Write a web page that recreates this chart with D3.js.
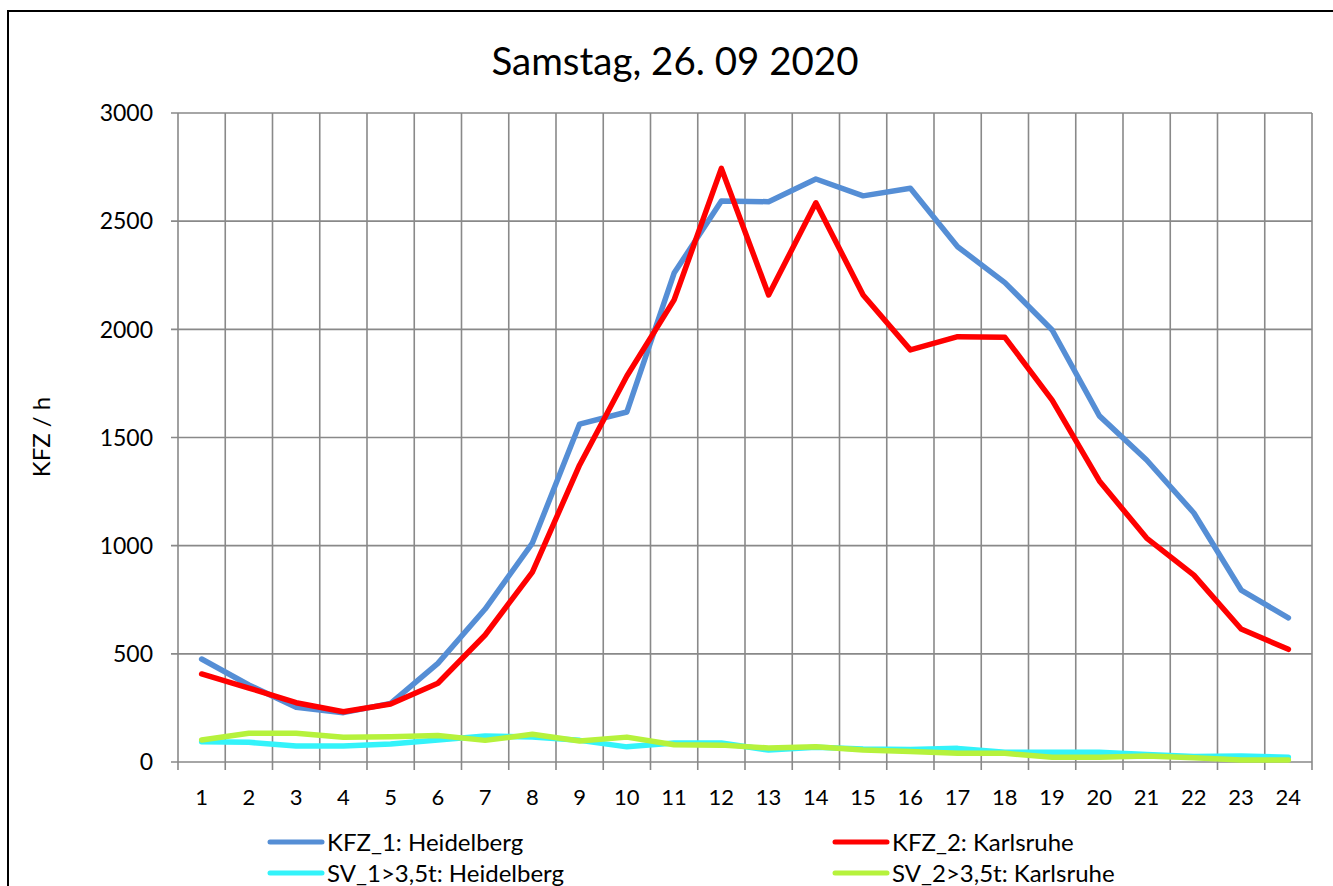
<!DOCTYPE html>
<html>
<head>
<meta charset="utf-8">
<script src="https://cdn.jsdelivr.net/npm/d3@7"></script>
<style>
body { margin:0; background:#fff; }
text { font-family: Lato, "Open Sans", sans-serif; fill:#000; }
</style>
</head>
<body>
<script>
// hours of the day
var hours = d3.range(1, 25)
var yTicks = [0, 500, 1000, 1500, 2000, 2500, 3000]

var kfz1 = [476, 356, 253, 228, 271, 456, 707, 1012, 1562, 1618, 2260, 2593,
            2590, 2695, 2617, 2652, 2382, 2216, 1997, 1600, 1396, 1151, 795, 666]
var kfz2 = [407, 342, 274, 232, 268, 364, 587, 878, 1373, 1784, 2136, 2744,
            2159, 2585, 2159, 1905, 1966, 1963, 1673, 1299, 1035, 864, 615, 521]
var sv1 = [94, 91, 74, 74, 83, 102, 120, 115, 100, 70, 88, 88,
           55, 68, 60, 58, 63, 45, 45, 45, 35, 25, 28, 22]
var sv2 = [102, 133, 133, 114, 117, 123, 100, 128, 97, 115, 80, 78,
           65, 70, 55, 48, 40, 40, 22, 22, 28, 20, 9, 9]

var seriesNames = ["KFZ_1: Heidelberg", "KFZ_2: Karlsruhe", "SV_1>3,5t: Heidelberg", "SV_2>3,5t: Karlsruhe"]
var seriesColors = ["#558ED5", "#FF0000", "#33F3FA", "#B6F23C"]
var seriesData = [kfz1, kfz2, sv1, sv2]

var width = 1333, height = 886
var plot = {left: 178, right: 1312, top: 113, bottom: 762}

var svg = d3.select("body").append("svg")
	.attr("width", width)
	.attr("height", height)

// outer frame
svg.append("rect")
	.attr("x", 8).attr("y", 11)
	.attr("width", 1345).attr("height", 900)
	.attr("fill", "none").attr("stroke", "#000").attr("stroke-width", 2)

var x = d3.scaleBand().domain(hours).range([plot.left, plot.right]).padding(0)
var y = d3.scaleLinear().domain([0, 3000]).range([plot.bottom, plot.top])

var grid = svg.append("g").attr("stroke", "#898989").attr("stroke-width", 1.6)

// horizontal grid + y ticks
grid.selectAll("line.h").data(yTicks).enter().append("line")
	.attr("x1", plot.left - 7).attr("x2", plot.right)
	.attr("y1", function(d){return y(d)}).attr("y2", function(d){return y(d)})

// vertical grid at category boundaries + x ticks
var bounds = hours.map(function(h){return x(h)}).concat([plot.right])
grid.selectAll("line.v").data(bounds).enter().append("line")
	.attr("x1", function(d){return d}).attr("x2", function(d){return d})
	.attr("y1", plot.top).attr("y2", plot.bottom + 8)

// y labels
svg.append("g").selectAll("text").data(yTicks).enter().append("text")
	.attr("x", 153).attr("y", function(d){return y(d)})
	.attr("dy", "0.36em")
	.attr("text-anchor", "end")
	.style("font-size", "23px")
	.text(function(d){return d})

// x labels
svg.append("g").selectAll("text").data(hours).enter().append("text")
	.attr("x", function(d){return x(d) + x.bandwidth()/2})
	.attr("y", 805)
	.attr("text-anchor", "middle")
	.style("font-size", "22px")
	.text(function(d){return d})

// lines
var line = d3.line()
	.x(function(d, i){return x(hours[i]) + x.bandwidth()/2})
	.y(function(d){return y(d)})

var order = [2, 3, 0, 1]
order.forEach(function(k){
	svg.append("path")
		.datum(seriesData[k])
		.attr("d", line)
		.attr("fill", "none")
		.attr("stroke", seriesColors[k])
		.attr("stroke-width", 5.5)
		.attr("stroke-linejoin", "round")
		.attr("stroke-linecap", "round")
})

// title
svg.append("text")
	.attr("x", 675).attr("y", 75)
	.attr("text-anchor", "middle")
	.style("font-size", "38.5px")
	.text("Samstag, 26. 09 2020")

// y axis title
svg.append("text")
	.attr("transform", "translate(50,437) rotate(-90)")
	.attr("text-anchor", "middle")
	.style("font-size", "24px")
	.text("KFZ / h")

// legend
var legPos = [[270, 842], [835, 842], [270, 873], [835, 873]]
var leg = svg.append("g").selectAll("g").data(seriesNames).enter().append("g")
	.attr("transform", function(d, i){return "translate(" + legPos[i][0] + "," + legPos[i][1] + ")"})
leg.append("line")
	.attr("x1", 0).attr("x2", 52)
	.attr("stroke", function(d, i){return seriesColors[i]})
	.attr("stroke-width", 5)
	.attr("stroke-linecap", "round")
leg.append("text")
	.attr("x", 57).attr("dy", "0.36em")
	.style("font-size", "24px")
	.text(function(d){return d})
</script>
</body>
</html>
